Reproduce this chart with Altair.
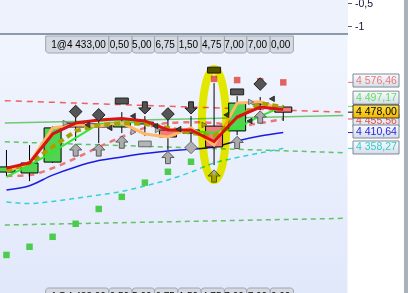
import altair as alt
import pandas as pd

# ---------------- bar data (bar index 0..12) ----------------
bars   = list(range(13))
opens  = [4280, 4277, 4313, 4442, 4429, 4429, 4445, 4419, 4419, 4432, 4416, 4508, 4495]
closes = [4297, 4310, 4426, 4429, 4439, 4442, 4439, 4396, 4409, 4363, 4508, 4505, 4478]
highs  = [4353, 4369, 4432, 4462, 4455, 4478, 4465, 4452, 4465, 4574, 4531, 4528, 4500]
lows   = [4267, 4250, 4310, 4383, 4376, 4409, 4399, 4353, 4376, 4303, 4402, 4485, 4449]

ma_red    = [4293, 4310, 4406, 4442, 4452, 4457, 4449, 4419, 4419, 4381, 4462, 4495, 4487]
ma_orange = [4283, 4310, 4426, 4436, 4432, 4442, 4406, 4396, 4426, 4369, 4508, 4512, 4485]
ma_olive  = [4283, 4310, 4363, 4416, 4436, 4442, 4439, 4426, 4409, 4399, 4459, 4508, 4495]
ma_green  = [4264, 4303, 4346, 4393, 4439, 4445, 4445, 4419, 4416, 4410, 4426, 4465, 4497.17]
ma_blue   = [4221, 4235, 4270, 4297, 4318, 4330, 4341, 4350, 4355, 4363, 4383, 4399, 4410.64]
ma_cyan   = [4181, 4176, 4183, 4193, 4204, 4216, 4234, 4254, 4280, 4310, 4328, 4343, 4358.27]
ma_pink   = [4267, 4270, 4293, 4326, 4363, 4396, 4426, 4442, 4445, 4442, 4432, 4442, 4455.56]

# straight channel lines (left edge, right edge)
edge_i          = [-0.07, 14.6]
chan_red        = [4516, 4478]
line_lightgreen = [4442, 4467]
chan_green_hi   = [4380, 4344]
chan_green_lo   = [4105, 4127]

# markers
sar_green_i = [0, 1, 2, 3, 4, 5, 6, 7, 8]
sar_green_v = [4006, 4033, 4066, 4109, 4158, 4198, 4245, 4281, 4314]
sar_red_i   = [9, 10, 11, 12]
sar_red_v   = [4588, 4584, 4580, 4576.46]
diam_i      = [3, 4, 7, 11]
diam_v      = [4480, 4469, 4472, 4571]
diam_l_i    = [8]
diam_l_v    = [4361]
down_i      = [6, 8]
down_v      = [4492, 4492]
up_i        = [3, 4, 5, 7, 9, 10, 11]
up_v        = [4353, 4353, 4379, 4328, 4267, 4378, 4462]
rect_d_i    = [5, 9, 10]
rect_d_v    = [4515, 4617, 4545]
rect_l_i    = [6]
rect_l_v    = [4373]
tri_r_i     = [2.55, 5.49, 6.55, 8.57, 10.59]
tri_r_v     = [4442, 4412, 4419, 4436, 4512]
tri_l_i     = [3.52, 4.48, 5.49, 6.46, 7.47, 9.54, 10.55, 11.52]
tri_l_v     = [4436, 4426, 4465, 4432, 4422, 4469, 4449, 4522]
highlight_i = [9]
highlight_v = [4437]

# header tabs
tab_text  = ["1@4 433,00", "0,50", "5,00", "6,75", "1,50", "4,75", "7,00", "7,00", "0,00"]
tab_left  = [1.70, 4.44, 5.45, 6.42, 7.43, 8.44, 9.45, 10.42, 11.43]
tab_right = [4.44, 5.45, 6.42, 7.43, 8.44, 9.45, 10.42, 11.43, 12.44]

# price labels on the right axis
lab_text  = ["4 576,46", "4 497,17", "4 455,56", "4 410,64", "4 358,27", "4 478,00"]
lab_value = [4576.46, 4497.17, 4455.56, 4410.64, 4358.27, 4478.00]
lab_pos   = [4582.6, 4526.0, 4450.4, 4414.0, 4361.2, 4480.2]
lab_color = ["#E87878", "#5EE05E", "#E05050", "#2424E0", "#30CCCC", "#000000"]

y_ticks = [3900, 4000, 4100, 4200, 4300, 4400, 4500, 4600, 4700]

# ---------------- scales ----------------
W, H = 348, 293
xs = alt.Scale(domain=[-0.0632, 14.589], nice=False, zero=False)
ys = alt.Scale(domain=[3880.2, 4848.8], nice=False, zero=False)
FONT = "Liberation Sans"


def X(f="i"):
    return alt.X(f"{f}:Q", scale=xs, axis=None)


def Y(f="v", axis=None):
    return alt.Y(f"{f}:Q", scale=ys, axis=axis)


def pts(i, v):
    return pd.DataFrame({"i": i, "v": v})


one = pd.DataFrame({"a": [0]})

# ---------------- background ----------------
bg_top = alt.Chart(one).mark_rect(color="#EEF2FC").encode(
    x=alt.value(0), x2=alt.value(W), y=alt.value(0), y2=alt.value(33))
sep = alt.Chart(one).mark_rect(color="#8D9AA7").encode(
    x=alt.value(0), x2=alt.value(W), y=alt.value(33), y2=alt.value(35))
grad = alt.LinearGradient(gradient="linear", x1=0, x2=0, y1=0, y2=1,
                          stops=[alt.GradientStop(color="#F1F5FE", offset=0),
                                 alt.GradientStop(color="#E1E8FA", offset=1)])
bg_main = alt.Chart(one).mark_rect(color=grad).encode(
    x=alt.value(0), x2=alt.value(W - 0.5), y=alt.value(35), y2=alt.value(H))
scroll = alt.Chart(one).mark_rect(color="#A9B3BD").encode(
    x=alt.value(404), x2=alt.value(412), y=alt.value(0), y2=alt.value(H))

# top indicator panel axis
top_ticks = alt.Chart(pd.DataFrame({"py": [3.5, 26.5], "t": ["-0,5", "-1"]}))
top_tick_marks = top_ticks.mark_rule(color="#55606C").encode(
    x=alt.value(W), x2=alt.value(W + 4), y=alt.Y("py:Q", scale=None))
top_tick_text = top_ticks.mark_text(align="left", baseline="middle", font=FONT,
                                    fontSize=10.5, color="#101030").encode(
    x=alt.value(W + 7), y=alt.Y("py:Q", scale=None), text="t:N")

# ---------------- tabs ----------------
tabs = pd.DataFrame({"l": tab_left, "r": tab_right, "t": tab_text})
tab_box = alt.Chart(tabs).mark_rect(fill="#D5DAE2", stroke="#9EA6B0", strokeWidth=1,
                                    cornerRadiusBottomLeft=3, cornerRadiusBottomRight=3).encode(
    x=X("l"), x2="r:Q", y=alt.value(36), y2=alt.value(53))
tab_txt = alt.Chart(tabs).mark_text(align="right", baseline="middle", font=FONT,
                                    fontSize=10, dx=-3, color="#000").encode(
    x=X("r"), y=alt.value(44.5), text="t:N")
tab_box_b = alt.Chart(tabs).mark_rect(fill="#D5DAE2", stroke="#9EA6B0", strokeWidth=1,
                                      cornerRadiusTopLeft=3, cornerRadiusTopRight=3).encode(
    x=X("l"), x2="r:Q", y=alt.value(288), y2=alt.value(310))
tab_txt_b = alt.Chart(tabs).mark_text(align="right", baseline="middle", font=FONT,
                                      fontSize=10, dx=-3, color="#000").encode(
    x=X("r"), y=alt.value(297), text="t:N")

# ---------------- lines ----------------


def line_layer(i, v, color, width, dash=None, opacity=1.0, interp="linear"):
    kw = dict(color=color, strokeWidth=width, opacity=opacity, interpolate=interp)
    if dash:
        kw["strokeDash"] = dash
    return alt.Chart(pts(i, v)).mark_line(**kw).encode(x=X(), y=Y())


l_gdlo = line_layer(edge_i, chan_green_lo, "#4CBB4C", 1.5, [5, 4], 0.85)
l_gdhi = line_layer(edge_i, chan_green_hi, "#4CBB4C", 1.5, [5, 4], 0.85)
l_rdhi = line_layer(edge_i, chan_red, "#F05050", 1.5, [6, 5], 0.9)
l_lg = line_layer(edge_i, line_lightgreen, "#4FBF4F", 1.5, None, 0.8)
l_cyan = line_layer(bars, ma_cyan, "#33D3D3", 1.5, [5, 4], 1, "monotone")
l_blue = line_layer(bars, ma_blue, "#1C1CE0", 1.5, None, 1, "monotone")
l_pink = line_layer(bars, ma_pink, "#EC7676", 2.5, [6, 5], 1, "monotone")

# ---------------- candles ----------------
cdf = pd.DataFrame({"i": bars, "o": opens, "c": closes, "h": highs, "l": lows})
cdf["dir"] = ["up" if c >= o else "down" for o, c in zip(opens, closes)]
yaxis = alt.Axis(orient="right", values=y_ticks,
                 labelExpr="replace(format(datum.value, ','), ',', ' ')",
                 labelFont=FONT, labelFontSize=10.5, labelColor="#000",
                 labelFontWeight={"condition": {"test": "datum.value == 4000", "value": "bold"},
                                  "value": "normal"},
                 tickSize=4, tickColor="#55606C", domainColor="#7D8A97",
                 labelPadding=3, grid=False, title=None, labelFlush=False,
                 labelOverlap=False, labelBound=False)
wick = alt.Chart(cdf).mark_rule(color="#000", strokeWidth=1).encode(
    x=X(), y=Y("l", yaxis), y2="h:Q")
body = alt.Chart(cdf).mark_bar(size=17, stroke="#000", strokeWidth=1, opacity=1).encode(
    x=X(), y=Y("o"), y2="c:Q",
    color=alt.Color("dir:N", scale=alt.Scale(domain=["up", "down"],
                                             range=["#52D352", "#F27C7C"]), legend=None))

l_green = line_layer(bars, ma_green, "#33E633", 2)
l_orange = line_layer(bars, ma_orange, "#FFB868", 3)
l_olive = line_layer(bars, ma_olive, "#A8A000", 4, [6, 4])
l_red = line_layer(bars, ma_red, "#D81414", 3)

# ---------------- markers ----------------
UP = "M0,-1L1,0L0.4,0L0.4,1L-0.4,1L-0.4,0L-1,0Z"
DOWN = "M-0.4,-1L0.4,-1L0.4,0L1,0L0,1L-1,0L-0.4,0Z"
DIAM = "M0,-1L1,0L0,1L-1,0Z"
RECT = "M-1,-0.45L1,-0.45L1,0.45L-1,0.45Z"
TRI_R = "M-0.8,-1L1,0L-0.8,1Z"
TRI_L = "M0.8,-1L-1,0L0.8,1Z"


def sym(i, v, shape, size, fill, stroke, sw=1.0):
    return alt.Chart(pts(i, v)).mark_point(shape=shape, size=size, filled=True, fill=fill,
                                           stroke=stroke, strokeWidth=sw, opacity=1).encode(
        x=X(), y=Y())


m_sq_g = alt.Chart(pts(sar_green_i, sar_green_v)).mark_square(
    size=42, color="#4CCC4C", opacity=1).encode(x=X(), y=Y())
m_sq_r = alt.Chart(pts(sar_red_i, sar_red_v)).mark_square(
    size=42, color="#E26262", opacity=1).encode(x=X(), y=Y())
m_tri_r = sym(tri_r_i, tri_r_v, TRI_R, 30, "#B8B8B8", "#606060", 0.8)
m_tri_l = sym(tri_l_i, tri_l_v, TRI_L, 30, "#404040", "#202020", 0.8)
m_rect_l = sym(rect_l_i, rect_l_v, RECT, 160, "#B4B4B4", "#6A6A6A")
m_rect_d = sym(rect_d_i, rect_d_v, RECT, 170, "#555555", "#1E1E1E")
m_diam_l = sym(diam_l_i, diam_l_v, DIAM, 150, "#B0B0B0", "#6A6A6A")
m_diam_d = sym(diam_i, diam_v, DIAM, 160, "#555555", "#1E1E1E")
m_down = sym(down_i, down_v, DOWN, 150, "#525252", "#1E1E1E")
m_up = sym(up_i, up_v, UP, 150, "#ABABAB", "#5A5A5A")

ELL = ("M0,-1C0.1215,-1 0.22,-0.5523 0.22,0C0.22,0.5523 0.1215,1 0,1"
       "C-0.1215,1 -0.22,0.5523 -0.22,0C-0.22,-0.5523 -0.1215,-1 0,-1Z")
m_hl = alt.Chart(pts(highlight_i, highlight_v)).mark_point(
    shape=ELL, size=12321, filled=False, stroke="#F4F400", strokeWidth=8,
    opacity=1, blend="multiply").encode(x=X(), y=Y())

# ---------------- right-hand price labels ----------------
BOX = "M-1,-0.283L1,-0.283L1,0.283L-1,0.283Z"
box_grad = alt.LinearGradient(gradient="linear", x1=0, x2=0, y1=0, y2=1,
                              stops=[alt.GradientStop(color="#FAFBFE", offset=0),
                                     alt.GradientStop(color="#D6DDE8", offset=1)])
yel_grad = alt.LinearGradient(gradient="linear", x1=0, x2=0, y1=0, y2=1,
                              stops=[alt.GradientStop(color="#FFE34A", offset=0),
                                     alt.GradientStop(color="#F3B600", offset=1)])
lab_layers = []
labdf = pd.DataFrame({"v": lab_value, "p": lab_pos, "t": lab_text, "c": lab_color})
lab_layers.append(alt.Chart(labdf).mark_rule(strokeWidth=1).encode(
    x=alt.value(W), x2=alt.value(W + 5), y=Y("v"), color=alt.Color("c:N", scale=None)))
for k in range(len(lab_text)):
    d = labdf.iloc[[k]]
    last = k == len(lab_text) - 1
    lab_layers.append(alt.Chart(d).mark_point(
        shape=BOX, size=2116, filled=True, fill=yel_grad if last else box_grad,
        stroke="#3A3A3A" if last else "#7C8A98", strokeWidth=1, opacity=1).encode(
        x=alt.value(376), y=Y("p")))
    lab_layers.append(alt.Chart(d).mark_text(
        align="left", baseline="middle", font=FONT, fontSize=10.5).encode(
        x=alt.value(356), y=Y("p"), text="t:N", color=alt.Color("c:N", scale=None)))

chart = alt.layer(
    bg_top, bg_main, sep, scroll, top_tick_marks, top_tick_text,
    l_gdlo, l_gdhi, l_lg, l_rdhi, l_cyan, l_blue, l_pink,
    wick, body,
    l_green, l_orange, l_olive, l_red,
    m_sq_g, m_sq_r, m_tri_r, m_tri_l, m_rect_l, m_rect_d, m_diam_l, m_diam_d, m_down, m_up,
    m_hl,
    tab_box, tab_txt, tab_box_b, tab_txt_b,
    *lab_layers,
).properties(
    width=W, height=H,
    padding={"left": 0, "top": 0, "right": 60, "bottom": 0},
    autosize="none",
).configure(background="white").configure_view(stroke=None)

chart.save("out.html", embed_options={"renderer": "svg", "actions": False})
